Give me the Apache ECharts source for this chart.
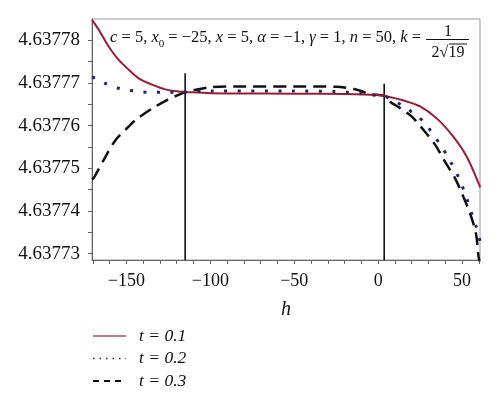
<!DOCTYPE html>
<html>
<head>
<meta charset="utf-8">
<script src="https://cdn.jsdelivr.net/npm/echarts@6/dist/echarts.min.js"></script>
<style>html,body{margin:0;padding:0;background:#fff}#c{width:500px;height:402px}</style>
</head>
<body>
<div id="c"></div>
<script>
// ---- data ----
const seriesNames = ['t = 0.1', 't = 0.2', 't = 0.3'];
const hT1 = [-170.5, -166.5, -160.5, -154.6, -148.6, -142.7, -134.7, -126.8, -118.9, -115, -100, -50, -20, 0, 3.6, 15.1, 25, 34.9, 44.8, 52.8, 60.3, 60.7];
const vT1 = [4.6377848, 4.6377825, 4.6377785, 4.6377754, 4.6377731, 4.6377711, 4.6377696, 4.6377685, 4.6377680, 4.6377679, 4.6377676, 4.6377675, 4.6377674, 4.6377672, 4.6377670, 4.6377659, 4.6377645, 4.6377617, 4.6377574, 4.6377527, 4.6377461, 4.6377455];
const hT2 = [-170.5, -168.5, -160.9, -153, -144.6, -136.3, -127.8, -119.8, -115, -100, -50, -25, -17.9, -9.5, -1.8, 3.6, 7.1, 15.1, 21, 28, 32.9, 37.9, 42.3, 46.4, 49.8, 52.8, 55.4, 58.3, 60.7];
const vT2 = [4.6377714, 4.6377711, 4.6377696, 4.6377686, 4.6377681, 4.6377678, 4.6377678, 4.6377678, 4.6377679, 4.6377681, 4.6377681, 4.6377680, 4.6377678, 4.6377676, 4.6377671, 4.6377670, 4.6377662, 4.6377646, 4.6377629, 4.6377606, 4.6377578, 4.6377551, 4.6377521, 4.6377492, 4.6377461, 4.6377430, 4.6377398, 4.6377365, 4.6377330];
const hT3 = [-170.5, -169.5, -162.5, -156.5, -149.6, -144.6, -134.7, -125.8, -117.9, -114.9, -108.9, -100, -80, -50, -25, -12.7, -4.8, 3.6, 7.1, 13.1, 20.1, 27, 34, 39.9, 45.8, 50.8, 54.8, 58.3, 59.7, 60.7];
const vT3 = [4.6377474, 4.6377477, 4.6377527, 4.6377566, 4.6377594, 4.6377613, 4.6377640, 4.6377660, 4.6377674, 4.6377678, 4.6377684, 4.6377690, 4.6377692, 4.6377692, 4.6377691, 4.6377684, 4.6377674, 4.6377670, 4.6377656, 4.6377641, 4.6377621, 4.6377590, 4.6377555, 4.6377515, 4.6377477, 4.6377433, 4.6377394, 4.6377347, 4.6377297, 4.6377275];
const vLineH = [-115, 3.6];
const vLineTop = [4.6377723, 4.6377698];
const xTickLabels = [-150, -100, -50, 0, 50];
const xTicks = [-170, -160, -150, -140, -130, -120, -110, -100, -90, -80, -70, -60, -50, -40, -30, -20, -10, 0, 10, 20, 30, 40, 50, 60];
const yTickLabels = [4.63773, 4.63774, 4.63775, 4.63776, 4.63777, 4.63778];
const yTicks = [4.63773, 4.637735, 4.63774, 4.637745, 4.63775, 4.637755, 4.63776, 4.637765, 4.63777, 4.637775, 4.63778];
const xMin = -170.5, xMax = 60.7, yMin = 4.6377285, yMax = 4.637785;

// ---- chart ----
const serif = 'Liberation Serif';
const zip = (a, b) => a.map((x, i) => [x, b[i]]);
const chart = echarts.init(document.getElementById('c'), null, {renderer: 'canvas'});
const colors = ['#9e1b32', '#22227a', '#111111'];
const vSeries = vLineH.map((h, i) => ({
  type: 'line', name: 'v' + i, data: [[h, vLineTop[i]], [h, yMin]],
  symbol: 'none', lineStyle: {color: '#000', width: 1.5}, silent: true, z: 1
}));
chart.setOption({
  animation: false,
  grid: {left: 92, top: 19, right: 20, bottom: 142, show: true, borderColor: '#999', borderWidth: 1},
  xAxis: {
    type: 'value', min: xMin, max: xMax,
    name: 'h', nameLocation: 'middle', nameGap: 40,
    nameTextStyle: {fontFamily: serif, fontStyle: 'italic', fontSize: 20, color: '#111'},
    axisLine: {onZero: false, lineStyle: {color: '#666', width: 1}},
    axisTick: {show: true, customValues: xTicks, length: 4, lineStyle: {color: '#666'}},
    axisLabel: {customValues: xTickLabels, margin: 12, fontFamily: serif, fontSize: 18, color: '#111',
      formatter: v => (v < 0 ? '\u2212' + Math.abs(v) : String(v))},
    splitLine: {show: false}
  },
  yAxis: {
    type: 'value', min: yMin, max: yMax,
    axisLine: {show: true, onZero: false, lineStyle: {color: '#666', width: 1}},
    axisTick: {show: true, customValues: yTicks, length: 4, lineStyle: {color: '#666'}},
    axisLabel: {customValues: yTickLabels, margin: 12, fontFamily: serif, fontSize: 19, color: '#111',
      formatter: v => Number(v).toFixed(5)},
    splitLine: {show: false}
  },
  legend: {
    data: [
      {name: seriesNames[0], lineStyle: {width: 1.5, color: '#b8485a'}},
      {name: seriesNames[1], lineStyle: {width: 1.5, type: [1.5, 5], color: colors[1]}},
      {name: seriesNames[2], lineStyle: {width: 2, type: [6, 5], color: colors[2]}}
    ],
    orient: 'vertical', left: 92, top: 327, height: 75, padding: 0,
    itemWidth: 33, itemHeight: 14, itemGap: 4.5,
    itemStyle: {color: 'rgba(0,0,0,0)', borderWidth: 0, opacity: 0},
    textStyle: {fontFamily: serif, fontStyle: 'italic', fontSize: 17.5, color: '#111', padding: [0, 0, 0, 8]}
  },
  graphic: [
    {type: 'text', left: 110, top: 29, z: 10, style: {
      text: '{i|c}{n| = 5, }{i|x}{s|0}{n| = \u221225, }{i|x}{n| = 5, }{i|\u03b1}{n| = \u22121, }{i|\u03b3}{n| = 1, }{i|n}{n| = 50, }{i|k}{n| = }',
      rich: {
        i: {fontFamily: serif, fontStyle: 'italic', fontSize: 16.5, lineHeight: 24, fill: '#111'},
        n: {fontFamily: serif, fontSize: 16.5, lineHeight: 24, fill: '#111'},
        s: {fontFamily: serif, fontSize: 11, verticalAlign: 'bottom', fill: '#111'}
      }
    }},
    {type: 'text', x: 448, y: 32, z: 10, style: {text: '1', fontFamily: serif, fontSize: 16, fill: '#111', align: 'center', verticalAlign: 'middle'}},
    {type: 'line', z: 10, shape: {x1: 426, y1: 39.5, x2: 469, y2: 39.5}, style: {stroke: '#111', lineWidth: 1}},
    {type: 'text', x: 448, y: 53, z: 10, style: {text: '2\u221a19', fontFamily: serif, fontSize: 16, fill: '#111', align: 'center', verticalAlign: 'middle'}},
    {type: 'line', z: 10, shape: {x1: 449, y1: 44, x2: 467, y2: 44}, style: {stroke: '#111', lineWidth: 1}}
  ],
  series: [
    {type: 'line', name: seriesNames[0], data: zip(hT1, vT1), symbol: 'none', smooth: 0.3,
      color: colors[0], lineStyle: {color: colors[0], width: 2}, z: 3},
    {type: 'line', name: seriesNames[1], data: zip(hT2, vT2), symbol: 'none', smooth: 0.3,
      color: colors[1], lineStyle: {color: colors[1], width: 3, type: [3, 10.5], cap: 'butt'}, z: 4},
    {type: 'line', name: seriesNames[2], data: zip(hT3, vT3), symbol: 'none', smooth: 0.3,
      color: colors[2], lineStyle: {color: colors[2], width: 2.5, type: [13, 7]}, z: 2},
    ...vSeries
  ]
});
</script>
</body>
</html>
